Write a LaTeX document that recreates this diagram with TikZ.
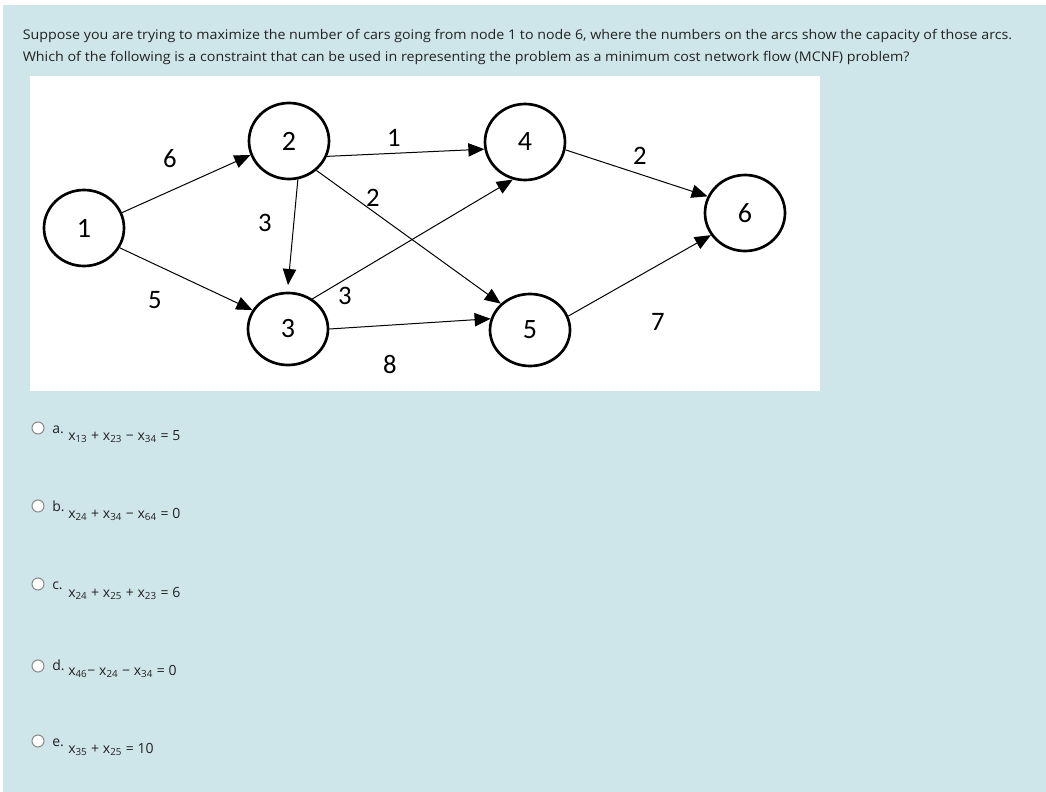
\documentclass[tikz,border=0pt]{standalone}
\usepackage{fontspec}
\usepackage{graphicx}
\setmainfont{Open Sans}
\newfontfamily\diagfont{Carlito}
\usetikzlibrary{arrows.meta,shapes.geometric}
\definecolor{bgblue}{HTML}{CEE5EA}
\definecolor{txt}{HTML}{222222}
\definecolor{radio}{HTML}{8A8A8A}
\newcommand{\op}[1]{\hspace{2.8pt}#1\hspace{2.8pt}}
\begin{document}
\begin{tikzpicture}[x=0.75pt,y=-0.75pt,
  vert/.style={ellipse, draw, line width=2pt, minimum width=60pt, minimum height=57pt, inner sep=0pt, font=\diagfont\fontsize{21}{21}\selectfont},
  arc/.style={line width=0.75pt, -{Triangle[length=12pt,width=10pt]}},
  lbl/.style={font=\diagfont\fontsize{20}{20}\selectfont, inner sep=0pt},
  qtext/.style={anchor=base west, inner sep=0pt, text=txt, font=\fontsize{10}{12}\selectfont},
  optlab/.style={anchor=base west, inner sep=0pt, text=txt, font=\fontsize{10.5}{12}\selectfont},
  opteq/.style={anchor=base west, inner sep=0pt, text=txt, font=\fontsize{10.5}{12}\selectfont},
  radiobtn/.style={circle, draw=radio, fill=white, line width=0.8pt, minimum size=9pt, inner sep=0pt}]
\useasboundingbox (0,0) rectangle (1046,792);
\fill[white] (0,0) rectangle (1046,792);
\fill[bgblue] (3,5) rectangle (1046,792);
\fill[white] (30,76) rectangle (820,391);
% question
\node[qtext] (q1) at (22.5,40) {\resizebox{742pt}{\height}{Suppose you are trying to maximize the number of cars going from node 1 to node 6, where the numbers on the arcs show the capacity of those arcs.}};
\node[qtext] (q2) at (22.5,62) {\resizebox{665pt}{\height}{Which of the following is a constraint that can be used in representing the problem as a minimum cost network flow (MCNF) problem?}};
% graph
\node[vert] (n1) at (84,228) {1};
\node[vert] (n2) at (289,141) {2};
\node[vert, minimum height=54pt] (n3) at (288,329) {3};
\node[vert] (n4) at (525,142) {4};
\node[vert, minimum height=54pt] (n5) at (530,330) {5};
\node[vert] (n6) at (745,213) {6};
\draw[arc] (n1.22) -- (n2.200);
\draw[arc] (n1.-29) -- (n3.152);
\draw[arc] (n2.-77) -- ([yshift=5pt]n3.90);
\draw[arc] (n2.-22) -- (n4.190);
\draw[arc] (n2.-47) -- (n5.138);
\draw[arc] (n3.51) -- (n4.252);
\draw[arc] (n3.0) -- (n5.164);
\draw[arc] (n4.-11) -- (n6.156);
\draw[arc] (n5.20) -- (n6.213);
\node[lbl] (c12) at (170,159) {6};
\node[lbl] (c13) at (155,300) {5};
\node[lbl] (c23) at (265,223) {3};
\node[lbl] (c24) at (394,138) {1};
\node[lbl] (c25) at (373,198) {2};
\node[lbl] (c34) at (345,296) {3};
\node[lbl] (c35) at (390,364) {8};
\node[lbl] (c46) at (640,156) {2};
\node[lbl] (c56) at (658,322) {7};
% options
\node[radiobtn] (ra) at (38,428) {};
\node[optlab] (la) at (52,433) {a.};
\node[opteq] (ea) at (68,440) {x\textsubscript{13}\op{+}x\textsubscript{23}\op{−}x\textsubscript{34}\op{=}5};
\node[radiobtn] (rb) at (38,506) {};
\node[optlab] (lb) at (52,511) {b.};
\node[opteq] (eb) at (68,518) {x\textsubscript{24}\op{+}x\textsubscript{34}\op{−}x\textsubscript{64}\op{=}0};
\node[radiobtn] (rc) at (38,584) {};
\node[optlab] (lc) at (52,589) {c.};
\node[opteq] (ec) at (68,597) {x\textsubscript{24}\op{+}x\textsubscript{25}\op{+}x\textsubscript{23}\op{=}6};
\node[radiobtn] (rd) at (38,666) {};
\node[optlab] (ld) at (52,670) {d.};
\node[opteq] (ed) at (68,675) {x\textsubscript{46}−\hspace{2.8pt}x\textsubscript{24}\op{−}x\textsubscript{34}\op{=}0};
\node[radiobtn] (re) at (38,741) {};
\node[optlab] (le) at (52,746) {e.};
\node[opteq] (ee) at (68,753) {x\textsubscript{35}\op{+}x\textsubscript{25}\op{=}10};
\end{tikzpicture}
\end{document}
